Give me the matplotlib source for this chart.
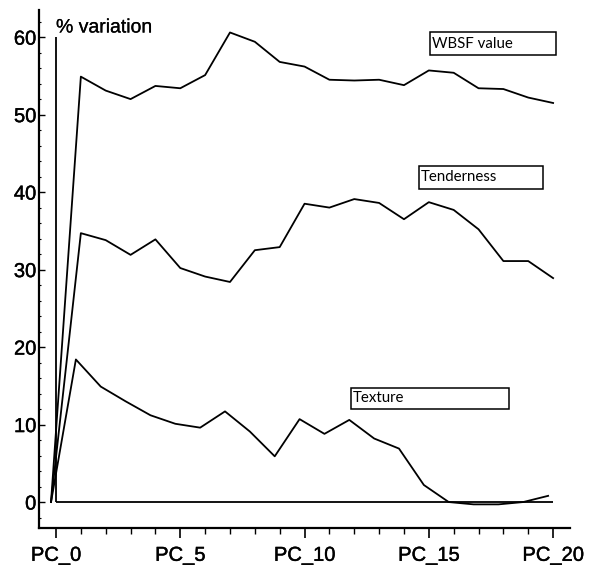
import matplotlib
matplotlib.use("Agg")
import matplotlib.pyplot as plt
import matplotlib.patheffects as pe
from matplotlib.patches import Rectangle
from matplotlib.ticker import MultipleLocator

# ---- data ----
pcs = list(range(1, 21))
start_x = -0.2
start_y = 0.0
texture_shift = -0.2

wbsf = [54.9, 53.1, 52.0, 53.7, 53.4, 55.1, 60.6, 59.4, 56.8, 56.2,
        54.5, 54.4, 54.5, 53.8, 55.7, 55.4, 53.4, 53.3, 52.2, 51.5]
tenderness = [34.7, 33.8, 31.9, 33.9, 30.2, 29.1, 28.4, 32.5, 32.9, 38.5,
              38.0, 39.1, 38.6, 36.5, 38.7, 37.7, 35.2, 31.1, 31.1, 28.9]
texture = [18.4, 14.9, 13.0, 11.2, 10.1, 9.6, 11.7, 9.1, 5.9, 10.7,
           8.8, 10.6, 8.2, 6.9, 2.2, 0.0, -0.3, -0.3, 0.0, 0.8]

xtick_vals = [0, 5, 10, 15, 20]
xtick_labels = ["PC_0", "PC_5", "PC_10", "PC_15", "PC_20"]
ytick_vals = [0, 10, 20, 30, 40, 50, 60]
series_labels = ["WBSF value", "Tenderness", "Texture"]
ylabel_text = "% variation"

W, H = 592, 565
fig = plt.figure(figsize=(W / 100, H / 100), dpi=100)
ax = fig.add_axes([39 / W, 1 - 528 / H, (570 - 39) / W, (528 - 10) / H])
ax.set_xlim(-0.684, 20.68)
ax.set_ylim(-3.35, 63.5)

lw = 1.3
col = "black"
heavy = [pe.withStroke(linewidth=0.3, foreground="black")]
light = [pe.withStroke(linewidth=0.15, foreground="black")]

# reference lines
ax.plot([0, 0], [0, 60], color=col, lw=lw, solid_capstyle="butt")
ax.plot([0, 20], [0, 0], color=col, lw=lw, solid_capstyle="butt")

ax.plot([start_x] + pcs, [start_y] + wbsf, color=col, lw=lw)
ax.plot([start_x] + pcs, [start_y] + tenderness, color=col, lw=lw)
ax.plot([start_x] + [p + texture_shift for p in pcs], [start_y] + texture, color=col, lw=lw)

for s in ["top", "right"]:
    ax.spines[s].set_visible(False)
for s in ["left", "bottom"]:
    ax.spines[s].set_linewidth(1.6)

ax.set_xticks(xtick_vals)
ax.set_xticklabels(xtick_labels, fontsize=14.5, family="Liberation Sans")
ax.xaxis.set_minor_locator(MultipleLocator(1))
ax.tick_params(axis="x", which="major", direction="out", length=7, width=1.2, pad=6)
ax.tick_params(axis="x", which="minor", direction="out", length=4, width=1.0)

ax.set_yticks(ytick_vals)
ax.set_yticklabels([str(v) for v in ytick_vals], fontsize=14.5, family="Liberation Sans")
ax.yaxis.set_minor_locator(MultipleLocator(2))
ax.tick_params(axis="y", which="major", direction="in", length=4, width=1.0, pad=2)
ax.tick_params(axis="y", which="minor", direction="in", length=1.5, width=0.8)

for t in ax.get_xticklabels() + ax.get_yticklabels():
    t.set_path_effects(heavy)

fig.text(56 / W, 1 - 28 / H, ylabel_text, fontsize=14, family="Liberation Sans",
         ha="left", va="center", path_effects=light)

boxes = [(430, 32, 556, 55), (419, 166, 543, 189), (351, 388, 509, 409)]
for (x0, y0, x1, y1), lab in zip(boxes, series_labels):
    r = Rectangle((x0 / W, 1 - y1 / H), (x1 - x0) / W, (y1 - y0) / H,
                  transform=fig.transFigure, fill=False, edgecolor=col, lw=1.1)
    fig.add_artist(r)
    fig.text((x0 + 2) / W, 1 - (y0 + y1) / 2 / H, lab, fontsize=10.8, family="Lato",
             ha="left", va="center")

fig.savefig("out.png", dpi=100)
